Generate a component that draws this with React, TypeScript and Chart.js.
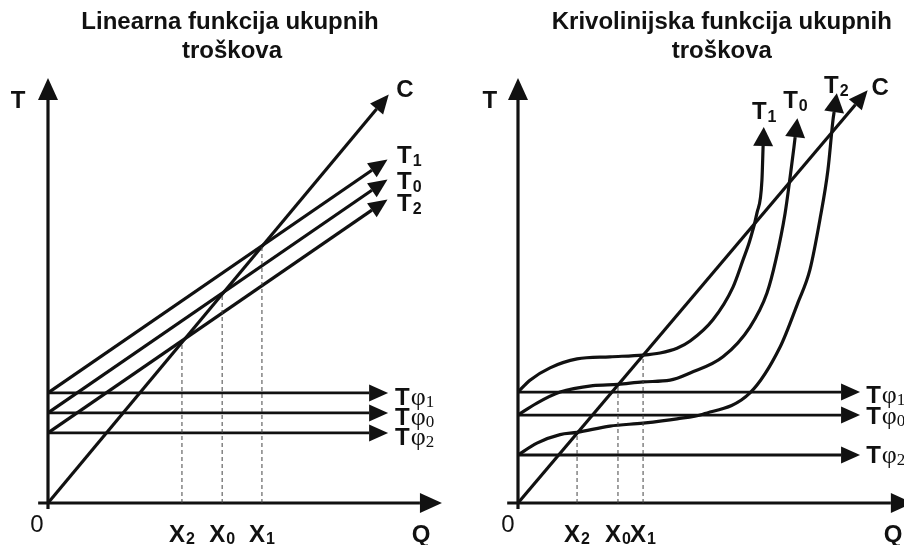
import React, { useEffect, useRef } from 'react';
import { Chart, registerables } from 'chart.js';

Chart.register(...registerables);

// ---------- Data: linear total cost function (left) ----------
const costLevels = ['1', '0', '2']; // T1, T0, T2 / Tφ1, Tφ0, Tφ2
const breakEvenNames = ['2', '0', '1']; // X2, X0, X1
const leftFixedCosts = [25.9, 21.2, 16.5]; // Tφ1, Tφ0, Tφ2
const leftFixedEndQ = 81.5;
const leftTotalCostEnds = [78.3, 73.6, 68.9]; // T1, T0, T2 at leftEndQ
const leftEndQ = 82.2;
const leftRevenueEnd = { x: 83.4, y: 92.7 }; // C
const leftBreakEvenQ = [34.0, 44.2, 54.3]; // X2, X0, X1
const leftBreakEvenT = [37.8, 49.2, 60.4];

// ---------- Data: curvilinear total cost function (right) ----------
const rightFixedCosts = [26.1, 20.7, 11.3]; // Tφ1, Tφ0, Tφ2
const rightFixedEndQ = 83.7;
const rightRevenueEnd = { x: 87.4, y: 93.7 }; // C
const rightBreakEvenQ = [15.3, 25.9, 32.4]; // X2, X0, X1
const rightBreakEvenT = [16.6, 27.9, 34.8];
const rightT1Q = [0, 3.1, 8.3, 15.3, 23.8, 32.4, 36.8, 41.2, 44.6, 50.5, 55.7, 58.3, 60.1, 61.9, 63.2, 63.5];
const rightT1T = [26.1, 28.9, 31.8, 33.9, 34.4, 34.8, 35.3, 36.4, 38.1, 43.1, 50.8, 57.2, 61.9, 68.2, 76.0, 84.0];
const rightT0Q = [0, 4.9, 10.9, 19.4, 25.9, 32.4, 39.4, 44.6, 53.1, 60.1, 64.5, 66.8, 69.2, 70.5, 71.5, 71.8];
const rightT0T = [20.7, 23.5, 26.1, 27.6, 27.9, 28.5, 28.9, 30.6, 34.4, 41.4, 49.4, 57.2, 68.2, 76.7, 83.8, 86.1];
const rightT2Q = [0, 4.9, 10.9, 15.3, 23.8, 32.4, 41.2, 47.9, 60.1, 67.9, 72.5, 75.6, 78.2, 80.3, 81.6, 81.9];
const rightT2T = [11.3, 14.1, 16.1, 16.6, 18.1, 18.8, 19.8, 20.9, 25.9, 36.7, 47.1, 54.8, 66.6, 78.4, 90.1, 92.0];

// ---------- Styles ----------
const INK = '#111111';
const FONT = '"Liberation Sans", Arial, Helvetica, sans-serif';
const SERIF = '"Liberation Serif", "Times New Roman", serif';
const F_TITLE = `bold 24px ${FONT}`;
const F_BIG = `bold 24px ${FONT}`;
const F_SUB = `bold 16px ${FONT}`;
const F_ZERO = `24px ${FONT}`;
const F_PHI = `26px ${SERIF}`;
const F_PHISUB = `17px ${SERIF}`;

const AXIS_ARROW = { len: 22, half: 10 };
const LINE_ARROW = { len: 19, half: 8.5 };
const CURVE_ARROW = { len: 19, half: 10 };

type Part = { t: string; f: string; dx?: number; dy?: number };
type Label = { x: number; y: number; align: 'left' | 'center'; parts: Part[] };

const txt = (t: string, f: string = F_BIG): Part[] => [{ t, f }];
const tLabel = (d: string): Part[] => [{ t: 'T', f: F_BIG }, { t: d, f: F_SUB, dx: 1, dy: 3 }];
const phiLabel = (d: string): Part[] => [
  { t: 'T', f: F_BIG },
  { t: 'φ', f: F_PHI, dx: 1 },
  { t: d, f: F_PHISUB, dy: 2 },
];
const xLabel = (d: string): Part[] => [{ t: 'X', f: F_BIG }, { t: d, f: F_SUB, dx: 1, dy: 2 }];

function seg(points: { x: number; y: number }[], extra: any = {}) {
  return {
    data: points,
    borderColor: INK,
    backgroundColor: INK,
    borderWidth: 3.2,
    pointRadius: 0,
    pointHoverRadius: 0,
    fill: false,
    clip: false,
    tension: 0,
    borderCapStyle: 'butt',
    ...extra,
  };
}

const zip = (xs: number[], ys: number[]) => xs.map((x, i) => ({ x, y: ys[i] }));

const arrowPlugin = {
  id: 'arrowHeads',
  afterDatasetsDraw(chart: any) {
    const ctx = chart.ctx;
    chart.data.datasets.forEach((ds: any, i: number) => {
      if (!ds.arrow) return;
      const pts = chart.getDatasetMeta(i).data as any[];
      const last = pts[pts.length - 1];
      let px = last.cp1x;
      let py = last.cp1y;
      if (
        px === undefined ||
        py === undefined ||
        (Math.abs(px - last.x) < 0.01 && Math.abs(py - last.y) < 0.01)
      ) {
        px = pts[pts.length - 2].x;
        py = pts[pts.length - 2].y;
      }
      let dx = last.x - px;
      let dy = last.y - py;
      const l = Math.hypot(dx, dy) || 1;
      dx /= l;
      dy /= l;
      const { len, half } = ds.arrow;
      const tx = last.x + dx * len;
      const ty = last.y + dy * len;
      ctx.save();
      ctx.fillStyle = ds.borderColor;
      ctx.beginPath();
      ctx.moveTo(tx, ty);
      ctx.lineTo(last.x - dy * half, last.y + dx * half);
      ctx.lineTo(last.x + dy * half, last.y - dx * half);
      ctx.closePath();
      ctx.fill();
      ctx.restore();
    });
  },
};

function makeLabelPlugin(labels: Label[]) {
  return {
    id: 'textLabels',
    afterDraw(chart: any) {
      const ctx = chart.ctx;
      const xs = chart.scales.x;
      const ys = chart.scales.y;
      ctx.save();
      ctx.fillStyle = INK;
      ctx.textBaseline = 'alphabetic';
      ctx.textAlign = 'left';
      labels.forEach((lab) => {
        const x = xs.getPixelForValue(lab.x);
        const y = ys.getPixelForValue(lab.y);
        const widths = lab.parts.map((p) => {
          ctx.font = p.f;
          return ctx.measureText(p.t).width;
        });
        const total = widths.reduce((a, b) => a + b, 0) + lab.parts.reduce((a, p) => a + (p.dx || 0), 0);
        let cx = lab.align === 'center' ? x - total / 2 : x;
        lab.parts.forEach((p, i) => {
          ctx.font = p.f;
          cx += p.dx || 0;
          ctx.fillText(p.t, cx, y + (p.dy || 0));
          cx += widths[i];
        });
      });
      ctx.restore();
    },
  };
}

function buildChart(canvas: HTMLCanvasElement, datasets: any[], labels: Label[], padding: any) {
  return new Chart(canvas, {
    type: 'line',
    data: { datasets },
    options: {
      animation: false,
      responsive: false,
      devicePixelRatio: 1,
      events: [],
      layout: { padding },
      plugins: {
        legend: { display: false },
        tooltip: { enabled: false },
        title: { display: false },
      },
      scales: {
        x: { type: 'linear', min: 0, max: 100, display: false },
        y: { type: 'linear', min: 0, max: 100, display: false },
      },
    } as any,
    plugins: [arrowPlugin as any, makeLabelPlugin(labels) as any],
  });
}

function leftSetup() {
  const datasets: any[] = [];
  leftBreakEvenQ.forEach((q, i) =>
    datasets.push(
      seg([{ x: q, y: 0 }, { x: q, y: leftBreakEvenT[i] }], { borderWidth: 1, borderDash: [4, 3], borderColor: '#444444' })
    )
  );
  datasets.push(seg([{ x: -2.5, y: 0 }, { x: 94.4, y: 0 }], { arrow: AXIS_ARROW }));
  datasets.push(seg([{ x: 0, y: -1.4 }, { x: 0, y: 94.8 }], { arrow: AXIS_ARROW }));
  leftFixedCosts.forEach((f) => datasets.push(seg([{ x: 0, y: f }, { x: leftFixedEndQ, y: f }], { arrow: LINE_ARROW, borderWidth: 2.8 })));
  leftTotalCostEnds.forEach((e, i) =>
    datasets.push(seg([{ x: 0, y: leftFixedCosts[i] }, { x: leftEndQ, y: e }], { arrow: LINE_ARROW }))
  );
  datasets.push(seg([{ x: 0, y: 0 }, leftRevenueEnd], { arrow: LINE_ARROW }));

  const tY = [80.0, 73.9, 68.7];
  const phiY = [23.1, 18.4, 13.6];
  const labels: Label[] = [
    { x: 46.2, y: 111.6, align: 'center', parts: txt('Linearna funkcija ukupnih', F_TITLE) },
    { x: 46.7, y: 104.7, align: 'center', parts: txt('troškova', F_TITLE) },
    { x: -7.6, y: 92.9, align: 'center', parts: txt('T') },
    { x: 90.6, y: 95.5, align: 'center', parts: txt('C') },
    ...costLevels.map((d, i) => ({ x: 88.6, y: tY[i], align: 'left' as const, parts: tLabel(d) })),
    ...costLevels.map((d, i) => ({ x: 88.1, y: phiY[i], align: 'left' as const, parts: phiLabel(d) })),
    { x: -2.8, y: -6.8, align: 'center', parts: txt('0', F_ZERO) },
    ...breakEvenNames.map((d, i) => ({ x: leftBreakEvenQ[i], y: -9.2, align: 'center' as const, parts: xLabel(d) })),
    { x: 94.7, y: -9.2, align: 'center', parts: txt('Q') },
  ];
  return { datasets, labels };
}

function rightSetup() {
  const datasets: any[] = [];
  rightBreakEvenQ.forEach((q, i) =>
    datasets.push(
      seg([{ x: q, y: 0 }, { x: q, y: rightBreakEvenT[i] }], { borderWidth: 1, borderDash: [4, 3], borderColor: '#444444' })
    )
  );
  datasets.push(seg([{ x: -2.8, y: 0 }, { x: 96.6, y: 0 }], { arrow: AXIS_ARROW }));
  datasets.push(seg([{ x: 0, y: -1.4 }, { x: 0, y: 94.8 }], { arrow: AXIS_ARROW }));
  rightFixedCosts.forEach((f) => datasets.push(seg([{ x: 0, y: f }, { x: rightFixedEndQ, y: f }], { arrow: LINE_ARROW, borderWidth: 2.8 })));
  const curves = [zip(rightT1Q, rightT1T), zip(rightT0Q, rightT0T), zip(rightT2Q, rightT2T)];
  curves.forEach((pts) => datasets.push(seg(pts, { arrow: CURVE_ARROW, cubicInterpolationMode: 'monotone' })));
  datasets.push(seg([{ x: 0, y: 0 }, rightRevenueEnd], { arrow: LINE_ARROW }));

  const tPos = [
    { x: 60.6, y: 90.4 },
    { x: 68.7, y: 92.9 },
    { x: 79.3, y: 96.5 },
  ];
  const phiY = [23.5, 18.6, 9.4];
  const labels: Label[] = [
    { x: 52.8, y: 111.6, align: 'center', parts: txt('Krivolinijska funkcija ukupnih', F_TITLE) },
    { x: 52.8, y: 104.7, align: 'center', parts: txt('troškova', F_TITLE) },
    { x: -7.3, y: 92.9, align: 'center', parts: txt('T') },
    { x: 93.8, y: 96.0, align: 'center', parts: txt('C') },
    ...costLevels.map((d, i) => ({ x: tPos[i].x, y: tPos[i].y, align: 'left' as const, parts: tLabel(d) })),
    ...costLevels.map((d, i) => ({ x: 90.2, y: phiY[i], align: 'left' as const, parts: phiLabel(d) })),
    { x: -2.6, y: -6.8, align: 'center', parts: txt('0', F_ZERO) },
    ...breakEvenNames.map((d, i) => ({ x: rightBreakEvenQ[i], y: -9.2, align: 'center' as const, parts: xLabel(d) })),
    { x: 97.2, y: -9.2, align: 'center', parts: txt('Q') },
  ];
  return { datasets, labels };
}

export default function App() {
  const leftRef = useRef<HTMLCanvasElement | null>(null);
  const rightRef = useRef<HTMLCanvasElement | null>(null);

  useEffect(() => {
    if (!leftRef.current || !rightRef.current) return;
    const l = leftSetup();
    const r = rightSetup();
    const c1 = buildChart(leftRef.current, l.datasets, l.labels, { left: 48, right: 10, top: 78, bottom: 42 });
    const c2 = buildChart(rightRef.current, r.datasets, r.labels, { left: 66, right: 0, top: 78, bottom: 42 });
    return () => {
      c1.destroy();
      c2.destroy();
    };
  }, []);

  return (
    <div
      style={{
        position: 'fixed',
        left: 0,
        top: 0,
        width: 904,
        height: 545,
        background: '#ffffff',
        overflow: 'hidden',
      }}
    >
      <canvas ref={leftRef} width={452} height={545} style={{ position: 'absolute', left: 0, top: 0, width: 452, height: 545 }} />
      <canvas ref={rightRef} width={452} height={545} style={{ position: 'absolute', left: 452, top: 0, width: 452, height: 545 }} />
    </div>
  );
}
